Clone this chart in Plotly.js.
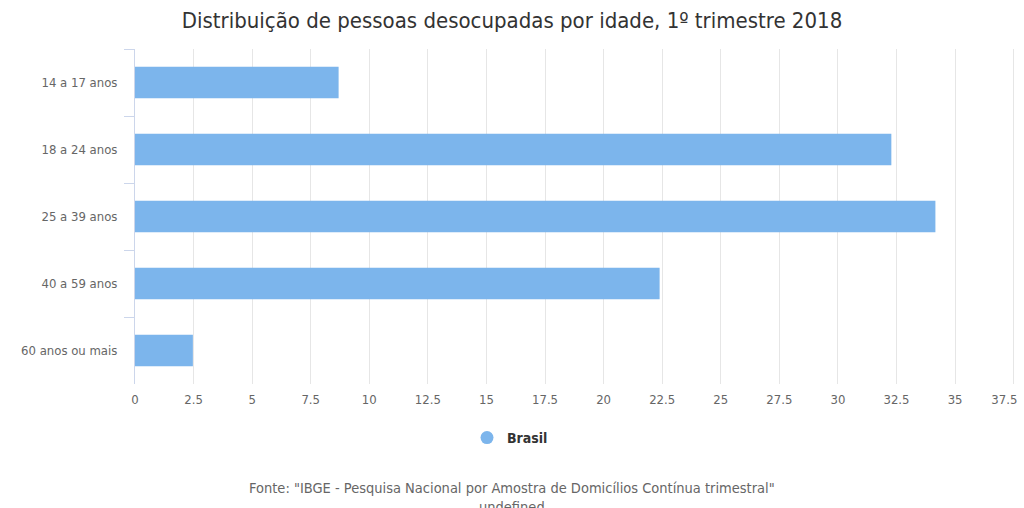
<!DOCTYPE html>
<html>
<head>
<meta charset="utf-8">
<script src="https://cdn.plot.ly/plotly-3.0.1.min.js"></script>
<style>html,body{margin:0;padding:0;background:#fff;}#chart{width:1024px;height:508px;}</style>
</head>
<body>
<div id="chart"></div>
<script>
var categories = ["14 a 17 anos", "18 a 24 anos", "25 a 39 anos", "40 a 59 anos", "60 anos ou mais"];
var brasil = [8.69, 32.28, 34.16, 22.39, 2.47];
var seriesName = "Brasil";
var xTickVals = [0, 2.5, 5, 7.5, 10, 12.5, 15, 17.5, 20, 22.5, 25, 27.5, 30, 32.5, 35, 37.5];
var xTickText = ["0", "2.5", "5", "7.5", "10", "12.5", "15", "17.5", "20", "22.5", "25", "27.5", "30", "32.5", "35", "37.5"];
var titleText = "Distribuição de pessoas desocupadas por idade, 1º trimestre 2018";
var sourceText = "Fonte: \"IBGE - Pesquisa Nacional por Amostra de Domicílios Contínua trimestral\"<br>undefined";

var W = 1024, H = 508;
var mT = 49, mB = 124, mL = 135, mR = 8;
var plotH = H - mT - mB;
var font = "'DejaVu Sans Condensed', 'Liberation Sans Narrow', 'DejaVu Sans', sans-serif";

// keep the last tick label inside the page (as the original chart does)
var xTickLabels = xTickText.map(function (t, i) {
  return i === xTickText.length - 1 ? t + "\u00a0\u00a0\u00a0\u00a0\u00a0" : t;
});

var traces = [
  {
    type: "bar",
    orientation: "h",
    x: brasil,
    y: categories,
    name: seriesName,
    marker: {color: "#7cb5ec", line: {width: 0}},
    showlegend: false,
    hoverinfo: "x+y"
  },
  {
    type: "scatter",
    mode: "markers",
    x: [null],
    y: [categories[0]],
    name: "<b>" + seriesName + "</b>",
    marker: {color: "#7cb5ec", size: 13, symbol: "circle"},
    showlegend: true,
    hoverinfo: "skip"
  }
];

var layout = {
  width: W,
  height: H,
  margin: {l: mL, r: mR, t: mT, b: mB},
  paper_bgcolor: "#ffffff",
  plot_bgcolor: "#ffffff",
  font: {family: font, size: 13, color: "#666666"},
  title: {
    text: titleText,
    x: 0.5, xref: "container", xanchor: "center",
    y: 1 - 20 / H, yref: "container", yanchor: "middle",
    font: {family: font, size: 22, color: "#333333"}
  },
  bargap: 0.53,
  xaxis: {
    range: [0, 37.6],
    tickvals: xTickVals,
    ticktext: xTickLabels,
    showgrid: true,
    gridcolor: "#e6e6e6",
    gridwidth: 1,
    zeroline: false,
    showline: false,
    ticks: "",
    ticklabelstandoff: 6,
    ticklabeloverflow: "allow",
    tickfont: {family: font, size: 13, color: "#666666"},
    fixedrange: true
  },
  yaxis: {
    type: "category",
    categoryorder: "array",
    categoryarray: categories,
    autorange: "reversed",
    showgrid: false,
    zeroline: false,
    showline: true,
    linecolor: "#ccd6eb",
    linewidth: 1,
    ticks: "outside",
    tickson: "boundaries",
    ticklen: 10,
    tickcolor: "#ccd6eb",
    tickwidth: 1,
    ticklabelstandoff: 14,
    tickfont: {family: font, size: 13, color: "#666666"},
    fixedrange: true
  },
  showlegend: true,
  legend: {
    orientation: "h",
    xref: "container",
    x: 467 / W, xanchor: "left",
    y: 1 - 438 / H, yref: "container", yanchor: "middle",
    font: {family: font, size: 14, color: "#333333"},
    bgcolor: "rgba(0,0,0,0)"
  },
  annotations: [
    {
      text: sourceText,
      xref: "paper", yref: "paper",
      x: (512 - mL) / (W - mL - mR), xanchor: "center",
      y: -(478 - (H - mB)) / plotH, yanchor: "top",
      showarrow: false,
      font: {family: font, size: 14.5, color: "#666666"},
      align: "center"
    }
  ]
};

Plotly.newPlot("chart", traces, layout, {displayModeBar: false});
</script>
</body>
</html>
